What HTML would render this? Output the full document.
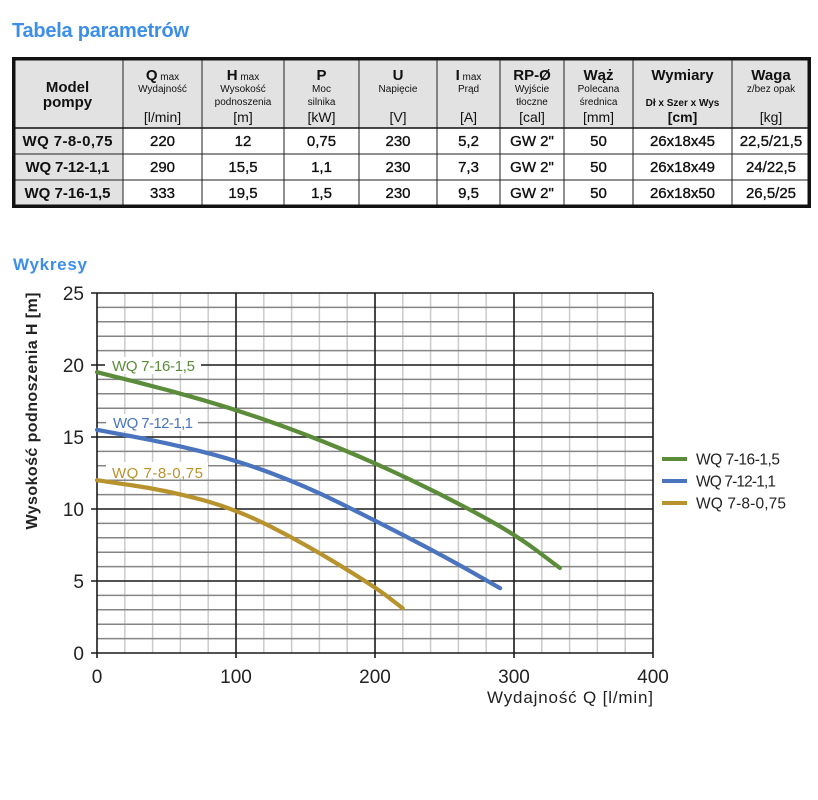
<!DOCTYPE html>
<html>
<head>
<meta charset="utf-8">
<style>
html,body{margin:0;padding:0;background:#fff;}
svg{display:block;}
text{font-family:"Liberation Sans","DejaVu Sans",sans-serif;}
</style>
</head>
<body>
<svg width="818" height="800" viewBox="0 0 818 800" xmlns="http://www.w3.org/2000/svg">
<rect x="0" y="0" width="818" height="800" fill="#fff"/>

<!-- Titles -->
<text x="12" y="37" font-size="20" font-weight="bold" fill="#3d8ee8" textLength="177">Tabela parametrów</text>
<text x="13" y="270" font-size="17" font-weight="bold" fill="#3d8ee8" textLength="74">Wykresy</text>

<!-- TABLE -->
<rect x="13" y="59" width="797" height="69" fill="#e2e2e2"/>
<rect x="13" y="128" width="110" height="78" fill="#e2e2e2"/>
<g stroke="#222" stroke-width="1">
  <line x1="123" y1="59" x2="123" y2="206"/>
  <line x1="202" y1="59" x2="202" y2="206"/>
  <line x1="284" y1="59" x2="284" y2="206"/>
  <line x1="359" y1="59" x2="359" y2="206"/>
  <line x1="437" y1="59" x2="437" y2="206"/>
  <line x1="500" y1="59" x2="500" y2="206"/>
  <line x1="564" y1="59" x2="564" y2="206"/>
  <line x1="633" y1="59" x2="633" y2="206"/>
  <line x1="732" y1="59" x2="732" y2="206"/>
  <line x1="13" y1="154" x2="810" y2="154"/>
  <line x1="13" y1="180" x2="810" y2="180"/>
</g>
<line x1="13" y1="128" x2="810" y2="128" stroke="#111" stroke-width="1.6"/>
<rect x="13.75" y="58.75" width="795.5" height="147.5" fill="none" stroke="#111" stroke-width="3.5"/>

<!-- header text -->
<g fill="#111" text-anchor="middle">
  <text x="67.5" y="92" font-size="15" font-weight="bold">Model</text>
  <text x="67.5" y="107" font-size="15" font-weight="bold">pompy</text>

  <text x="162.5" y="80" font-size="15" font-weight="bold">Q<tspan font-size="10" font-weight="normal"> max</tspan></text>
  <text x="162.5" y="92" font-size="10">Wydajność</text>
  <text x="162.5" y="122" font-size="14">[l/min]</text>

  <text x="243" y="80" font-size="15" font-weight="bold">H<tspan font-size="10" font-weight="normal"> max</tspan></text>
  <text x="243" y="92" font-size="10">Wysokość</text>
  <text x="243" y="105" font-size="10">podnoszenia</text>
  <text x="243" y="122" font-size="14">[m]</text>

  <text x="321.5" y="80" font-size="15" font-weight="bold">P</text>
  <text x="321.5" y="92" font-size="10">Moc</text>
  <text x="321.5" y="105" font-size="10">silnika</text>
  <text x="321.5" y="122" font-size="14">[kW]</text>

  <text x="398" y="80" font-size="15" font-weight="bold">U</text>
  <text x="398" y="92" font-size="10">Napięcie</text>
  <text x="398" y="122" font-size="14">[V]</text>

  <text x="468.5" y="80" font-size="15" font-weight="bold">I<tspan font-size="10" font-weight="normal"> max</tspan></text>
  <text x="468.5" y="92" font-size="10">Prąd</text>
  <text x="468.5" y="122" font-size="14">[A]</text>

  <text x="532" y="80" font-size="15" font-weight="bold">RP-Ø</text>
  <text x="532" y="92" font-size="10">Wyjście</text>
  <text x="532" y="105" font-size="10">tłoczne</text>
  <text x="532" y="122" font-size="14">[cal]</text>

  <text x="598.5" y="80" font-size="15" font-weight="bold">Wąż</text>
  <text x="598.5" y="92" font-size="10">Polecana</text>
  <text x="598.5" y="105" font-size="10">średnica</text>
  <text x="598.5" y="122" font-size="14">[mm]</text>

  <text x="682.5" y="80" font-size="15" font-weight="bold">Wymiary</text>
  <text x="682.5" y="106" font-size="10" font-weight="bold">Dł x Szer x Wys</text>
  <text x="682.5" y="122" font-size="14" font-weight="bold">[cm]</text>

  <text x="771" y="80" font-size="15" font-weight="bold">Waga</text>
  <text x="771" y="92" font-size="10">z/bez opak</text>
  <text x="771" y="122" font-size="14">[kg]</text>
</g>

<!-- body text -->
<g fill="#111" text-anchor="middle" font-size="15" font-weight="bold">
  <text x="67.5" y="146" textLength="90">WQ 7-8-0,75</text>
  <text x="67.5" y="172" textLength="84">WQ 7-12-1,1</text>
  <text x="67.5" y="198" textLength="86">WQ 7-16-1,5</text>
</g>
<g fill="#111" text-anchor="middle" font-size="15" stroke="#111" stroke-width="0.35">
  <text x="162.5" y="146">220</text>
  <text x="162.5" y="172">290</text>
  <text x="162.5" y="198">333</text>
  <text x="243" y="146">12</text>
  <text x="243" y="172">15,5</text>
  <text x="243" y="198">19,5</text>
  <text x="321.5" y="146">0,75</text>
  <text x="321.5" y="172">1,1</text>
  <text x="321.5" y="198">1,5</text>
  <text x="398" y="146">230</text>
  <text x="398" y="172">230</text>
  <text x="398" y="198">230</text>
  <text x="468.5" y="146">5,2</text>
  <text x="468.5" y="172">7,3</text>
  <text x="468.5" y="198">9,5</text>
  <text x="532" y="146">GW 2"</text>
  <text x="532" y="172">GW 2"</text>
  <text x="532" y="198">GW 2"</text>
  <text x="598.5" y="146">50</text>
  <text x="598.5" y="172">50</text>
  <text x="598.5" y="198">50</text>
  <text x="682.5" y="146">26x18x45</text>
  <text x="682.5" y="172">26x18x49</text>
  <text x="682.5" y="198">26x18x50</text>
  <text x="771" y="146">22,5/21,5</text>
  <text x="771" y="172">24/22,5</text>
  <text x="771" y="198">26,5/25</text>
</g>

<!-- CHART GRID -->
<g stroke="#cbcbcb" stroke-width="1.5">
  <line x1="124.8" y1="293" x2="124.8" y2="653"/>
  <line x1="152.6" y1="293" x2="152.6" y2="653"/>
  <line x1="180.4" y1="293" x2="180.4" y2="653"/>
  <line x1="208.2" y1="293" x2="208.2" y2="653"/>
  <line x1="263.8" y1="293" x2="263.8" y2="653"/>
  <line x1="291.6" y1="293" x2="291.6" y2="653"/>
  <line x1="319.4" y1="293" x2="319.4" y2="653"/>
  <line x1="347.2" y1="293" x2="347.2" y2="653"/>
  <line x1="402.8" y1="293" x2="402.8" y2="653"/>
  <line x1="430.6" y1="293" x2="430.6" y2="653"/>
  <line x1="458.4" y1="293" x2="458.4" y2="653"/>
  <line x1="486.2" y1="293" x2="486.2" y2="653"/>
  <line x1="541.8" y1="293" x2="541.8" y2="653"/>
  <line x1="569.6" y1="293" x2="569.6" y2="653"/>
  <line x1="597.4" y1="293" x2="597.4" y2="653"/>
  <line x1="625.2" y1="293" x2="625.2" y2="653"/>
</g>
<g stroke="#858585" stroke-width="1.5">
  <line x1="97" y1="638.6" x2="653" y2="638.6"/>
  <line x1="97" y1="624.2" x2="653" y2="624.2"/>
  <line x1="97" y1="609.8" x2="653" y2="609.8"/>
  <line x1="97" y1="595.4" x2="653" y2="595.4"/>
  <line x1="97" y1="566.6" x2="653" y2="566.6"/>
  <line x1="97" y1="552.2" x2="653" y2="552.2"/>
  <line x1="97" y1="537.8" x2="653" y2="537.8"/>
  <line x1="97" y1="523.4" x2="653" y2="523.4"/>
  <line x1="97" y1="494.6" x2="653" y2="494.6"/>
  <line x1="97" y1="480.2" x2="653" y2="480.2"/>
  <line x1="97" y1="465.8" x2="653" y2="465.8"/>
  <line x1="97" y1="451.4" x2="653" y2="451.4"/>
  <line x1="97" y1="422.6" x2="653" y2="422.6"/>
  <line x1="97" y1="408.2" x2="653" y2="408.2"/>
  <line x1="97" y1="393.8" x2="653" y2="393.8"/>
  <line x1="97" y1="379.4" x2="653" y2="379.4"/>
  <line x1="97" y1="350.6" x2="653" y2="350.6"/>
  <line x1="97" y1="336.2" x2="653" y2="336.2"/>
  <line x1="97" y1="321.8" x2="653" y2="321.8"/>
  <line x1="97" y1="307.4" x2="653" y2="307.4"/>
</g>
<g stroke="#1a1a1a" stroke-width="1.6">
  <line x1="91" y1="293" x2="653" y2="293"/>
  <line x1="91" y1="365" x2="653" y2="365"/>
  <line x1="91" y1="437" x2="653" y2="437"/>
  <line x1="91" y1="509" x2="653" y2="509"/>
  <line x1="91" y1="581" x2="653" y2="581"/>
  <line x1="91" y1="653" x2="653" y2="653"/>
  <line x1="97" y1="293" x2="97" y2="658"/>
  <line x1="236" y1="293" x2="236" y2="658"/>
  <line x1="375" y1="293" x2="375" y2="658"/>
  <line x1="514" y1="293" x2="514" y2="658"/>
  <line x1="653" y1="293" x2="653" y2="658"/>
</g>

<!-- label boxes -->
<rect x="105" y="357" width="96" height="17" fill="#fff"/>
<rect x="106" y="414" width="92" height="17" fill="#fff"/>
<rect x="106" y="462" width="102" height="16" fill="#fff"/>

<!-- curves -->
<g fill="none" stroke-width="4.2" stroke-linecap="round" stroke-linejoin="round">
  <path stroke="#5b8c3a" d="M97,372.2 L131.75,380.85 Q166.5,389.5 201.25,399.55 Q236,409.6 270.75,421.85 Q305.5,434.1 340.25,448.5 Q375,462.9 409.75,479.45 Q444.5,496 479.25,514.75 Q514,533.5 536.95,550.75 L559.9,568"/>
  <path stroke="#4a74bd" d="M97,429.8 L131.75,436.3 Q166.5,442.8 201.25,451.4 Q236,460 270.75,473 Q305.5,486 340.25,503.25 Q375,520.5 409.75,538.5 Q444.5,556.5 472.3,572.35 L500.1,588.2"/>
  <path stroke="#b8932d" d="M97,480.2 L131.75,485.25 Q166.5,490.3 201.25,499.65 Q236,509 270.75,526.65 Q305.5,544.3 340.25,565.55 Q375,586.8 388.9,597.6 L402.8,608.4"/>
</g>

<!-- curve labels -->
<text x="112" y="371" font-size="15" fill="#5b8c3a" textLength="83">WQ 7-16-1,5</text>
<text x="113" y="428" font-size="15" fill="#4a74bd" textLength="80">WQ 7-12-1,1</text>
<text x="112" y="478" font-size="15" fill="#b8932d" textLength="91">WQ 7-8-0,75</text>

<!-- y tick labels -->
<g font-size="19" fill="#222" text-anchor="end">
  <text x="84" y="300">25</text>
  <text x="84" y="372">20</text>
  <text x="84" y="444">15</text>
  <text x="84" y="516">10</text>
  <text x="84" y="588">5</text>
  <text x="84" y="660">0</text>
</g>
<!-- x tick labels -->
<g font-size="19" fill="#222" text-anchor="middle">
  <text x="97" y="683">0</text>
  <text x="236" y="683">100</text>
  <text x="375" y="683">200</text>
  <text x="514" y="683">300</text>
  <text x="653" y="683">400</text>
</g>

<!-- axis titles -->
<text x="487" y="703" font-size="17" fill="#222" textLength="166">Wydajność Q [l/min]</text>
<text transform="translate(37,411) rotate(-90)" text-anchor="middle" font-size="16" font-weight="bold" fill="#222" textLength="237">Wysokość podnoszenia H [m]</text>

<!-- legend -->
<g stroke-width="4">
  <line x1="662" y1="459" x2="687" y2="459" stroke="#5b8c3a"/>
  <line x1="662" y1="481" x2="687" y2="481" stroke="#4a74bd"/>
  <line x1="662" y1="503" x2="687" y2="503" stroke="#b8932d"/>
</g>
<g font-size="15.5" fill="#222">
  <text x="696" y="464.5" textLength="84">WQ 7-16-1,5</text>
  <text x="696" y="486.5" textLength="80">WQ 7-12-1,1</text>
  <text x="696" y="508.5" textLength="90">WQ 7-8-0,75</text>
</g>
</svg>
</body>
</html>
